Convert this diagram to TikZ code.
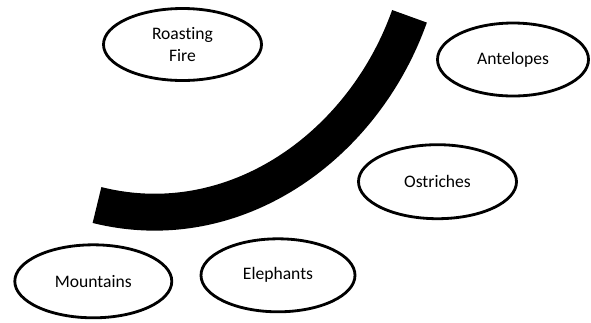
\documentclass[tikz,border=0pt]{standalone}
\usepackage{fontspec}
\setmainfont[Ligatures={NoCommon}]{Carlito}
\usetikzlibrary{shapes.geometric}

\tikzset{
  bubble/.style={ellipse, draw=black, line width=2.4pt, inner sep=0pt,
    align=center, font=\fontsize{15}{18.7}\selectfont},
  band/.style={line width=31.5pt, line cap=butt, draw=black}
}

\begin{document}
\begin{tikzpicture}[x=0.03cm, y=-0.03cm]
  \useasboundingbox (0,0) rectangle (591,322);

  % topic bubbles
  \node[bubble, minimum width=158*0.03cm, minimum height=72*0.03cm] (fire) at (182.5,44.5) {Roasting\\Fire};
  \node[bubble, minimum width=151*0.03cm, minimum height=73*0.03cm] (antelopes) at (513,59.5) {Antelopes};
  \node[bubble, minimum width=158*0.03cm, minimum height=74*0.03cm] (ostriches) at (437.5,181.7) {Ostriches};
  \node[bubble, minimum width=157*0.03cm, minimum height=73*0.03cm] (mountains) at (93.3,281.3) {Mountains};
  \node[bubble, minimum width=154*0.03cm, minimum height=73*0.03cm] (elephants) at (278,275.3) {Elephants};

  % thick curved band
  \coordinate (bandstart) at (97,205);
  \coordinate (bandend) at (409.5,16.3);
  \draw[band] (bandstart) .. controls (232.8,239) and (362.5,148.2) .. (bandend);
\end{tikzpicture}
\end{document}
